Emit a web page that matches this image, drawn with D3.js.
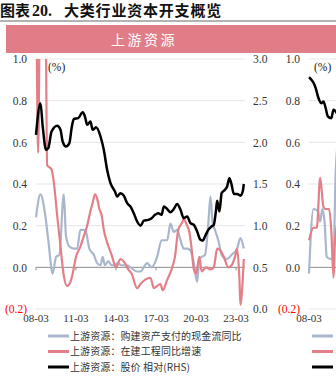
<!DOCTYPE html>
<html><head><meta charset="utf-8">
<script src="https://cdn.jsdelivr.net/npm/d3@7"></script>
<style>
html,body{margin:0;padding:0;background:#fff;overflow:hidden;}
svg{display:block;}
</style></head>
<body>
<div id="chart"></div>
<script>
// ---------- DATA (months since 2008-03) ----------
const xTickLabels = ["08-03","11-03","14-03","17-03","20-03","23-03"];
const leftTicks = [-0.2, 0, 0.2, 0.4, 0.6, 0.8, 1.0];
const rightTicks = [0, 0.5, 1.0, 1.5, 2.0, 2.5, 3.0];
const legendLabels = ["上游资源：购建资产支付的现金流同比","上游资源：在建工程同比增速","上游资源：股价 相对(RHS)"];

// Panel 1: 上游资源
const blueMonths = [0,4,8,11,15,18,21,25,27,30,34,37,40,43,45,48,52,55,58,60,62,65,68,71,73,77,82,85,91,94,100,104,109,113,118,121,124,127,130,133,136,139,142,145,147,149,152,155,157,159,161,164,167,172,176,181,184,187];
const blueValues = [0.24,0.35,0.26,0.13,-0.03,0.05,0.06,0.35,0.15,0.10,0.09,0.09,0.18,0.18,0.17,0.09,0.06,0.02,0.01,0.05,0.01,0.03,0.01,0.01,0.02,0.01,0.01,0.0,-0.02,-0.02,0.02,0.0,0.05,0.13,0.13,0.21,0.17,0.18,0.13,0.09,0.09,0.08,0.02,-0.07,0.04,0.05,0.06,0.21,0.34,0.21,0.18,0.13,0.06,0.04,0.06,0.09,0.14,0.09];

const redMonths = [0,2,4,8,10,14,16,19,22,25,28,31,33,36,40,43,46,49,51,53,55,57,59,61,64,68,72,76,80,83,86,91,94,98,103,106,109,112,114,118,122,125,128,131,133,136,138,140,142,144,147,149,151,153,157,160,163,166,169,173,176,179,181,183,184,185,187];
const redValues = [1.6,0.55,1.6,1.6,0.49,0.47,0.41,0.25,0.10,-0.04,-0.09,-0.07,-0.03,0.05,0.10,0.15,0.20,0.27,0.31,0.35,0.33,0.28,0.25,0.18,0.12,0.06,0.0,0.04,0.02,-0.01,-0.03,-0.10,-0.08,-0.06,-0.05,-0.10,-0.09,-0.08,-0.11,-0.06,-0.01,0.05,0.18,0.21,0.23,0.20,0.17,0.09,-0.01,-0.03,0.05,-0.02,-0.01,0.0,-0.01,0.0,0.09,0.08,0.05,0.0,0.01,0.05,0.09,-0.05,-0.18,-0.14,0.04];

const blackMonths = [0,4,6,9,11,14,19,22,24,27,30,32,34,38,42,44,46,49,51,54,58,61,64,67,71,73,76,79,82,85,88,91,94,97,101,104,107,110,113,115,118,121,124,127,130,133,136,139,142,145,148,150,152,155,158,160,162,163,165,167,170,172,174,176,178,181,184,186,187];
const blackValues = [2.09,2.47,2.19,1.91,1.93,2.13,2.20,2.15,2.01,1.95,1.99,2.17,2.28,2.29,2.36,2.31,2.21,2.25,2.15,2.18,2.07,1.91,1.67,1.51,1.41,1.35,1.39,1.36,1.27,1.23,1.15,1.05,1.00,1.06,1.07,1.09,1.13,1.15,1.13,1.23,1.20,1.16,1.20,1.26,1.19,1.09,1.11,1.03,1.01,0.93,0.83,0.82,0.87,0.95,0.99,1.01,1.19,1.30,1.17,1.39,1.43,1.47,1.57,1.49,1.38,1.38,1.36,1.41,1.50];

// Panel 2 (partly visible, cut at right edge)
const p2BlueMonths = [0,4,8,10,12,14,16,19,22,24,26];
const p2BlueValues = [-0.03,0.28,0.27,0.22,0.28,0.22,0.05,0.04,0.05,0.45,0.6];
const p2RedMonths = [0,4,7,10,13,15,18,20,22,23,25];
const p2RedValues = [0.13,0.19,0.19,0.43,0.29,0.28,0.28,0.18,-0.05,0.09,0.2];
const p2BlackMonths = [0,6,8,11,13,15,17,20,22,24,27];
const p2BlackValues = [2.78,2.65,2.55,2.47,2.49,2.41,2.31,2.29,2.39,2.37,2.3];

// ---------- CHART ----------
const W = 336, H = 385;
const COL_BLUE = "#a9b7cc", COL_RED = "#e37f88", COL_BLACK = "#000000", COL_BANNER = "#e17d86";
const start = new Date(2008, 2, 1);
const toDate = m => d3.timeMonth.offset(start, m);
const zip = (ms, vs) => ms.map((m, i) => ({d: toDate(m), v: vs[i]}));

const svg = d3.select("#chart").append("svg").attr("width", W).attr("height", H);

// Title
const title = svg.append("text").attr("y", 16)
  .attr("font-family", "'Noto Sans CJK SC', sans-serif").attr("font-weight", "bold")
  .attr("font-size", 15).attr("fill", "#111");
title.append("tspan").attr("x", 0).text("图表");
title.append("tspan").attr("x", 32).attr("font-family", "'Liberation Serif', serif").attr("font-size", 16).text("20.");
title.append("tspan").attr("x", 64).attr("letter-spacing", 0.8).text("大类行业资本开支概览");

svg.append("line").attr("x1", 0).attr("x2", W).attr("y1", 21).attr("y2", 21)
  .attr("stroke", "#9a9a9a").attr("stroke-width", 1.5);

// Banner
svg.append("rect").attr("x", 6).attr("y", 25).attr("width", W - 6).attr("height", 28).attr("fill", COL_BANNER);
svg.append("text").attr("x", 144).attr("y", 45).attr("text-anchor", "middle")
  .attr("font-family", "'Noto Sans CJK SC', sans-serif").attr("font-size", 14)
  .attr("letter-spacing", 2.5).attr("fill", "#fff").text("上游资源");

const yTop = 59, yBot = 309;
const yL = d3.scaleLinear().domain([-0.2, 1.0]).range([yBot, yTop]);
const yR = d3.scaleLinear().domain([0, 3.0]).range([yBot, yTop]);

svg.append("defs").append("clipPath").attr("id", "clipY")
  .append("rect").attr("x", 0).attr("y", yTop).attr("width", W).attr("height", yBot - yTop);

const fmtL = v => v < 0 ? "(" + Math.abs(v).toFixed(1) + ")" : v.toFixed(1);

function panel(off, blue, red, black, showRight, legendX, pctX, showLegendText) {
  const x = d3.scaleTime().domain([toDate(0), toDate(180)]).range([36 + off, 236 + off]);
  const plotR = 245 + off;
  const g = svg.append("g");

  // grid
  g.selectAll(".grid").data(leftTicks.filter(t => t !== 0)).join("line")
    .attr("x1", 36 + off).attr("x2", plotR)
    .attr("y1", d => yL(d)).attr("y2", d => yL(d))
    .attr("stroke", "#e6e6e6").attr("stroke-width", 1);

  // left axis
  const ax = g.append("g").attr("transform", `translate(${27 + off},0)`)
    .call(d3.axisLeft(yL).tickValues(leftTicks).tickFormat(fmtL).tickSize(0).tickPadding(0));
  ax.select(".domain").remove();
  ax.selectAll("text").attr("font-family", "'Liberation Serif', serif").attr("font-size", 11.5)
    .attr("fill", d => d < 0 ? "#ff0000" : "#333");

  // right axis
  if (showRight) {
    const axr = g.append("g").attr("transform", `translate(${253 + off},0)`)
      .call(d3.axisRight(yR).tickValues(rightTicks).tickFormat(d3.format(".1f")).tickSize(0).tickPadding(0));
    axr.select(".domain").remove();
    axr.selectAll("text").attr("font-family", "'Liberation Serif', serif").attr("font-size", 11.5).attr("fill", "#333");
  }

  // zero line + x axis ticks
  g.append("line").attr("x1", 36 + off).attr("x2", plotR).attr("y1", yL(0)).attr("y2", yL(0))
    .attr("stroke", "#8c8c8c").attr("stroke-width", 1);
  const xt = d3.range(0, 181, 36).map(toDate);
  g.selectAll(".xt").data(xt).join("line")
    .attr("x1", d => x(d)).attr("x2", d => x(d)).attr("y1", yL(0)).attr("y2", yL(0) + 3)
    .attr("stroke", "#8c8c8c");
  const visibleXt = xt.map((d, i) => ({d, t: xTickLabels[i]})).filter(o => x(o.d) + 14 <= W);
  g.selectAll(".xl").data(visibleXt).join("text")
    .attr("x", o => x(o.d)).attr("y", 322).attr("text-anchor", "middle")
    .attr("font-family", "'Liberation Serif', serif").attr("font-size", 11).attr("fill", "#333")
    .text(o => o.t);

  // (%)
  g.append("text").attr("x", pctX).attr("y", 71)
    .attr("font-family", "'Liberation Serif', serif").attr("font-size", 11.5).attr("fill", "#222").text("(%)");

  const lineL = d3.line().x(d => x(d.d)).y(d => yL(d.v)).curve(d3.curveMonotoneX);
  const lineR = d3.line().x(d => x(d.d)).y(d => yR(d.v)).curve(d3.curveMonotoneX);
  const lg = g.append("g").attr("clip-path", "url(#clipY)");
  lg.append("path").datum(blue).attr("d", lineL).attr("fill", "none").attr("stroke", COL_BLUE).attr("stroke-width", 2.2);
  lg.append("path").datum(red).attr("d", lineL).attr("fill", "none").attr("stroke", COL_RED).attr("stroke-width", 2.2);
  lg.append("path").datum(black).attr("d", lineR).attr("fill", "none").attr("stroke", COL_BLACK).attr("stroke-width", 2.5);

  // legend
  const cols = [COL_BLUE, COL_RED, COL_BLACK];
  const lgd = g.append("g");
  legendLabels.forEach((t, i) => {
    const y = 336 + i * 15.5;
    lgd.append("line").attr("x1", legendX).attr("x2", legendX + 21).attr("y1", y).attr("y2", y)
      .attr("stroke", cols[i]).attr("stroke-width", 3);
    if (showLegendText) {
      lgd.append("text").attr("x", legendX + 22).attr("y", y + 3.5)
        .attr("font-family", "'Noto Sans CJK SC', sans-serif").attr("font-size", 10)
        .attr("letter-spacing", 0.1).attr("fill", "#333").text(t);
    }
  });
}

panel(0, zip(blueMonths, blueValues), zip(redMonths, redValues), zip(blackMonths, blackValues), true, 48, 48, true);
panel(273, zip(p2BlueMonths, p2BlueValues), zip(p2RedMonths, p2RedValues), zip(p2BlackMonths, p2BlackValues), false, 312, 314, false);
</script>
</body></html>
